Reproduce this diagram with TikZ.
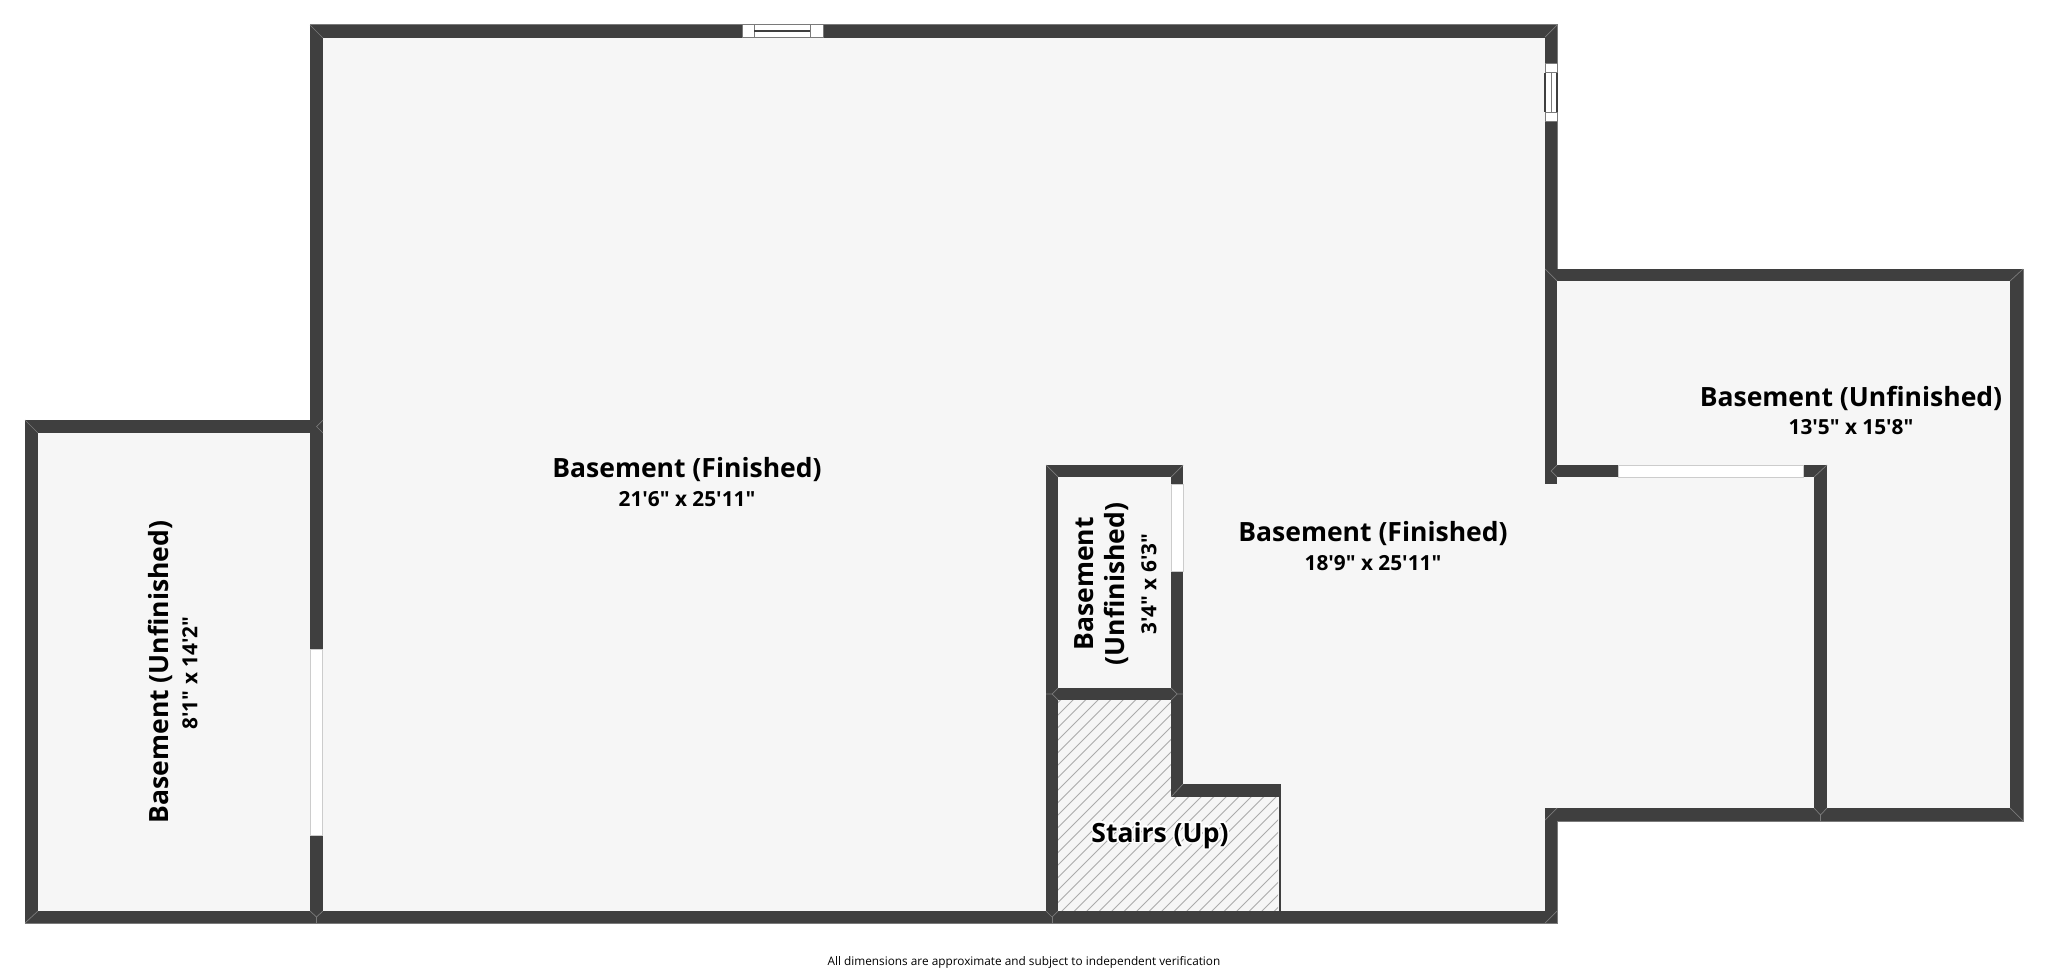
\documentclass[tikz,border=0pt]{standalone}
\usepackage{fontspec}
\newfontfamily\planfont{Open Sans}
\usepackage[copies]{contour}
\contourlength{1.6pt}
\contournumber{24}
\definecolor{wallc}{HTML}{3F3F3F}
\definecolor{floorc}{HTML}{F6F6F6}
\definecolor{edgec}{HTML}{7A7A7A}
\definecolor{openc}{HTML}{CCCCCC}
\definecolor{hatchc}{HTML}{ABABAB}
\tikzset{
  wall/.style={fill=wallc,draw=none},
  miter/.style={draw=edgec,line width=0.7pt},
  opening/.style={fill=white,draw=openc,line width=1pt},
  winfill/.style={fill=white,draw=edgec,line width=1pt},
  winline/.style={draw=wallc,line width=1.2pt},
  roomname/.style={font=\planfont\fontsize{26.5}{31}\selectfont\bfseries,text=black,inner sep=0pt,align=center},
  roomsize/.style={font=\planfont\fontsize{20.8}{25}\selectfont\bfseries,text=black,inner sep=0pt},
  footnote/.style={font=\planfont\fontsize{11.8}{15}\selectfont,text=black,inner sep=0pt}
}
\begin{document}
\begin{tikzpicture}[x=1pt,y=-1pt]
\useasboundingbox (0,0) rectangle (2048,974);
% floor
\fill[floorc] (310,25) -- (1557,25) -- (1557,269) -- (2023,269) -- (2023,821) -- (1557,821) -- (1557,923) -- (25,923) -- (25,420) -- (310,420) -- cycle;
% hatch
\begin{scope}
\clip (1058,700) -- (1171,700) -- (1171,797) -- (1278,797) -- (1278,911) -- (1058,911) -- cycle;
\foreach \k in {0,...,45} {
  \draw[hatchc,line width=1pt] (793+\k*12.5,930) -- ++(260,-260);
}
\end{scope}
% outer edge
\draw[edgec,line width=1pt] (310,25) -- (1557,25) -- (1557,269) -- (2023,269) -- (2023,821) -- (1557,821) -- (1557,923) -- (25,923) -- (25,420) -- (310,420) -- cycle;
% walls: main block
\fill[wall] (310,25) rectangle (1557,38);
\fill[wall] (310,25) rectangle (323,433);
\fill[wall] (310,420) rectangle (323,923);
\fill[wall] (1545,25) rectangle (1557,281);
\fill[wall] (1545,269) rectangle (1557,484);
% left room
\fill[wall] (25,420) rectangle (323,433);
\fill[wall] (25,420) rectangle (38,923);
\fill[wall] (25,911) rectangle (1557,923);
% right room
\fill[wall] (1545,269) rectangle (2023,281);
\fill[wall] (2010,269) rectangle (2023,821);
\fill[wall] (1545,808) rectangle (2023,821);
\fill[wall] (1545,808) rectangle (1557,923);
\fill[wall] (1814,465) rectangle (1827,821);
\fill[wall] (1545,465) rectangle (1827,477);
% small room and stairs
\fill[wall] (1046,465) rectangle (1183,477);
\fill[wall] (1046,465) rectangle (1058,923);
\fill[wall] (1046,688) rectangle (1183,700);
\fill[wall] (1171,465) rectangle (1183,797);
\fill[wall] (1171,784) rectangle (1281,797);
\fill[wall] (1278.5,784) rectangle (1281,911);
% openings
\draw[opening] (310.5,649) rectangle (322.5,835);
\draw[opening] (1171.5,484) rectangle (1183,571);
\draw[opening] (1618,465) rectangle (1803,477);
% window top
\draw[winfill] (742,25) rectangle (823,37.5);
\draw[winfill] (754,25) rectangle (810,37.5);
\draw[winline] (754,31) -- (810,31);
% window right
\draw[winfill] (1545,64) rectangle (1557,121);
\draw[winfill] (1545,73) rectangle (1557,112);
\draw[edgec,line width=1pt] (1551,73) -- (1551,112);
\draw[winline] (1545,73) -- (1545,112);
\draw[winline] (1557,73) -- (1557,112);
% joints
\draw[miter] (310,25) -- (323,38);
\draw[miter] (1557,25) -- (1545,37);
\draw[miter] (25,420) -- (38,433);
\draw[miter] (25,923) -- (38,911);
\draw[miter] (323,420) -- (316.5,426.5) -- (323,433);
\draw[miter] (310,911) -- (316.5,917) -- (323,911);
\draw[miter] (316.5,917) -- (316.5,923);
\draw[miter] (1046,911) -- (1052,917) -- (1058,911);
\draw[miter] (1052,917) -- (1052,923);
\draw[miter] (1545,269) -- (1551,275) -- (1557,281);
\draw[miter] (2023,269) -- (2010,281);
\draw[miter] (2023,821) -- (2010,808);
\draw[miter] (1557,911) -- (1545,923);
\draw[miter] (1557,808) -- (1545,820);
\draw[miter] (1814,808) -- (1820.5,815) -- (1827,808);
\draw[miter] (1820.5,815) -- (1820.5,821);
\draw[miter] (1557,465) -- (1551,471) -- (1557,477);
\draw[miter] (1827,465) -- (1814,477);
\draw[miter] (1046,465) -- (1058,477);
\draw[miter] (1183,465) -- (1171,477);
\draw[miter] (1046,694) -- (1052,694) -- (1058,688);
\draw[miter] (1052,694) -- (1058,700);
\draw[miter] (1183,694) -- (1177,694) -- (1171,688);
\draw[miter] (1177,694) -- (1171,700);
\draw[miter] (1171,797) -- (1183,784);
% labels
\node[roomname] (finA) at (687,470) {Basement (Finished)};
\node[roomsize] (finAs) at (687,499) {21'6" x 25'11"};
\node[roomname] (finB) at (1373,534) {Basement (Finished)};
\node[roomsize] (finBs) at (1373,563) {18'9" x 25'11"};
\node[roomname] (unfR) at (1851,398) {Basement (Unfinished)};
\node[roomsize] (unfRs) at (1851,427) {13'5" x 15'8"};
\node[roomname,rotate=90] (unfL) at (160,672) {Basement (Unfinished)};
\node[roomsize,rotate=90] (unfLs) at (190,673) {8'1" x 14'2"};
\node[roomname,rotate=90] (unfS) at (1102,584) {Basement\\(Unfinished)};
\node[roomsize,rotate=90] (unfSs) at (1149,584) {3'4" x 6'3"};
\node[roomname] (stairs) at (1160,836) {\contour{white}{Stairs (Up)}};
\node[footnote] (note) at (1024,962) {All dimensions are approximate and subject to independent verification};
\end{tikzpicture}
\end{document}
